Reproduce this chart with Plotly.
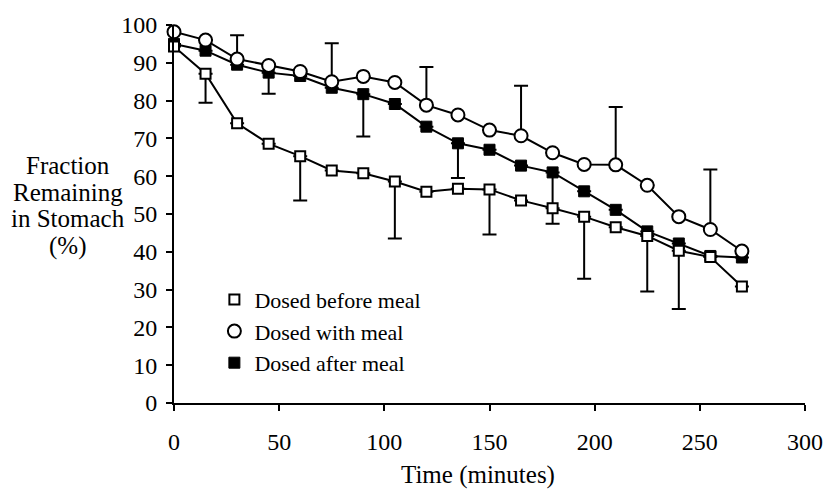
import plotly.graph_objects as go

# ---- data ----
time_min = [0, 15, 30, 45, 60, 75, 90, 105, 120, 135, 150, 165, 180, 195, 210, 225, 240, 255, 270]

before_meal = [94.3, 87.1, 74.0, 68.6, 65.3, 61.5, 60.8, 58.6, 55.9, 56.7, 56.5,
               53.6, 51.5, 49.3, 46.5, 44.2, 40.3, 38.6, 30.8]
with_meal = [98.2, 96.0, 91.0, 89.3, 87.7, 85.0, 86.4, 84.8, 78.8, 76.2, 72.2,
             70.7, 66.2, 63.1, 63.0, 57.6, 49.3, 45.9, 40.2]
after_meal = [95.0, 93.2, 89.5, 87.4, 86.5, 83.4, 81.7, 79.1, 73.1, 68.7, 67.0,
              62.8, 61.0, 56.0, 51.1, 45.4, 42.2, 38.9, 38.5]

# one-sided error bars (0 = no bar)
before_err_down = [0, 7.7, 0, 0, 11.7, 0, 0, 15.1, 0, 0, 11.9, 0, 0, 16.4, 0, 0, 15.4, 0, 0]
with_err_up = [0, 0, 6.3, 0, 0, 10.2, 0, 0, 10.1, 0, 0, 13.2, 0, 0, 15.3, 0, 0, 15.9, 0]
after_err_down = [0, 0, 0, 5.6, 0, 0, 11.2, 0, 0, 9.2, 0, 0, 13.6, 0, 0, 15.9, 0, 0, 0]
zeros = [0] * len(time_min)

series_names = ["Dosed before meal", "Dosed with meal", "Dosed after meal"]
x_ticks = [0, 50, 100, 150, 200, 250, 300]
y_ticks = [0, 10, 20, 30, 40, 50, 60, 70, 80, 90, 100]
y_title_lines = ["Fraction", "Remaining", "in Stomach", "(%)"]

FONT = "Liberation Serif, Times New Roman, serif"
BLACK = "black"

fig = go.Figure()

def err(up, down):
    return dict(type="data", symmetric=False, array=up, arrayminus=down,
                color=BLACK, thickness=2, width=7)

# draw order: after (bottom), before, with (top)
fig.add_trace(go.Scatter(
    x=time_min, y=after_meal, mode="lines+markers", showlegend=False,
    line=dict(color=BLACK, width=2),
    marker=dict(symbol="square", size=11, color=BLACK, line=dict(color=BLACK, width=1)),
    error_y=err(zeros, after_err_down), cliponaxis=False))
fig.add_trace(go.Scatter(
    x=time_min, y=before_meal, mode="lines+markers", showlegend=False,
    line=dict(color=BLACK, width=2),
    marker=dict(symbol="square", size=10, color="white", line=dict(color=BLACK, width=2)),
    error_y=err(zeros, before_err_down), cliponaxis=False))
fig.add_trace(go.Scatter(
    x=time_min, y=with_meal, mode="lines+markers", showlegend=False,
    line=dict(color=BLACK, width=2),
    marker=dict(symbol="circle", size=13, color="white", line=dict(color=BLACK, width=2)),
    error_y=err(with_err_up, zeros), cliponaxis=False))

# legend-only entries (markers only, as in the reference)
legend_markers = [
    dict(symbol="square", size=10, color="white", line=dict(color=BLACK, width=2)),
    dict(symbol="circle", size=13, color="white", line=dict(color=BLACK, width=2)),
    dict(symbol="square", size=11, color=BLACK, line=dict(color=BLACK, width=1)),
]
for name, mk in zip(series_names, legend_markers):
    fig.add_trace(go.Scatter(x=[None], y=[None], mode="markers", name=name, marker=mk))

# y-axis title as stacked lines (tighter line spacing than <br>)
annotations = [
    dict(text="Time (minutes)", xref="paper", yref="paper", x=0.482, y=-0.19,
         xanchor="center", yanchor="middle", showarrow=False,
         font=dict(family=FONT, size=25)),
]
title_px = [160, 188, 215, 243]
for line, ypx in zip(y_title_lines, title_px):
    annotations.append(dict(
        text=line, xref="paper", yref="paper", x=-0.168, y=(403 - ypx) / 386,
        xanchor="center", yanchor="middle", showarrow=False,
        font=dict(family=FONT, size=25)))

fig.update_layout(
    width=835, height=490,
    margin=dict(l=174, r=26, t=17, b=87),
    paper_bgcolor="white", plot_bgcolor="white",
    font=dict(family=FONT, size=24, color=BLACK),
    showlegend=True,
    legend=dict(x=0.064, y=0.19, xanchor="left", yanchor="middle",
                bgcolor="rgba(0,0,0,0)", font=dict(family=FONT, size=22, color=BLACK),
                itemclick=False, tracegroupgap=0),
    xaxis=dict(range=[0, 300], tickvals=x_ticks, showgrid=False, zeroline=False,
               showline=True, linecolor=BLACK, linewidth=2,
               ticks="outside", ticklen=6, tickwidth=2, tickcolor=BLACK,
               ticklabelstandoff=10, tickfont=dict(family=FONT, size=24)),
    yaxis=dict(range=[0, 100], tickvals=y_ticks, showgrid=False, zeroline=False,
               showline=True, linecolor=BLACK, linewidth=2,
               ticks="outside", ticklen=6, tickwidth=2, tickcolor=BLACK,
               ticklabelstandoff=4, tickfont=dict(family=FONT, size=24)),
    annotations=annotations,
)

fig.write_html("out.html")
